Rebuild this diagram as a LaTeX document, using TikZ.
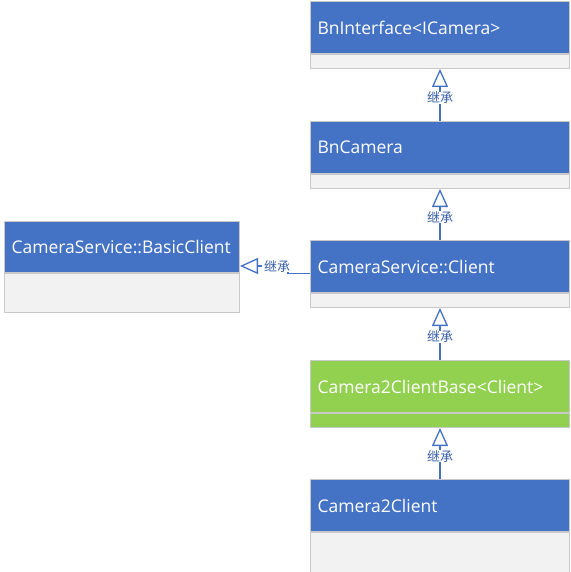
\documentclass[tikz,border=0pt]{standalone}
\usepackage{fontspec}
\setmainfont{Open Sans}
\newfontfamily\cjk{Noto Sans CJK SC}
\usepackage{tikz}
\usetikzlibrary{positioning, arrows.meta}
\definecolor{hdrblue}{HTML}{4472C4}
\definecolor{hdrgreen}{HTML}{92D050}
\definecolor{bodygray}{HTML}{F2F2F2}
\definecolor{edgegray}{HTML}{C9C9C9}

\begin{document}
\begin{tikzpicture}[x=1pt,y=-1pt]
\tikzstyle{head}=[rectangle, draw=edgegray, line width=1pt, fill=hdrblue, text=white, anchor=north west, inner xsep=7pt, text width=245pt, align=left, minimum height=52pt, font=\fontsize{17.5}{20}\selectfont]
\tikzstyle{body}=[rectangle, draw=edgegray, line width=1pt, fill=bodygray, minimum width=259pt, minimum height=14pt, inner sep=0pt]
\tikzstyle{gen}=[draw=hdrblue, line width=1.3pt, -{Triangle[open, length=18pt, width=16pt]}]
\tikzstyle{lbl}=[fill=white, text=hdrblue!85!black, inner xsep=2pt, inner ysep=0pt, font=\cjk\fontsize{13}{13}\selectfont]
\useasboundingbox (0,0) rectangle (570,572);
\node[head] (h1) at (310,1) {BnInterface<ICamera>};
\node[body, below=0pt of h1] (b1) {};
\node[head] (h2) at (310,121) {BnCamera};
\node[body, below=0pt of h2] (b2) {};
\node[head] (h3) at (310,240) {CameraService::Client};
\node[body, below=0pt of h3] (b3) {};
\node[head, fill=hdrgreen] (h4) at (310,360) {Camera2ClientBase<Client>};
\node[body, fill=hdrgreen, below=0pt of h4] (b4) {};
\node[head] (h5) at (310,479) {Camera2Client};
\node[body, minimum height=40pt, below=0pt of h5] (b5) {};
\node[head, text width=221pt, minimum height=51pt] (h6) at (4,221) {CameraService::BasicClient};
\node[body, minimum width=235pt, minimum height=39pt, below=0pt of h6] (b6) {};
\draw[gen] (h2) -- node[lbl, pos=0.45] {继承} (b1);
\draw[gen] (h3) -- node[lbl, pos=0.45] {继承} (b2);
\draw[gen] (h4) -- node[lbl, pos=0.45] {继承} (b3);
\draw[gen] (h5) -- node[lbl, pos=0.45] {继承} (b4);
\coordinate (k) at (288,266);
\draw[gen] ([yshift=-7pt]h3.west) -| (k) -- (h6.east |- k);
\node[lbl] at (277,266) {继承};
\end{tikzpicture}
\end{document}
